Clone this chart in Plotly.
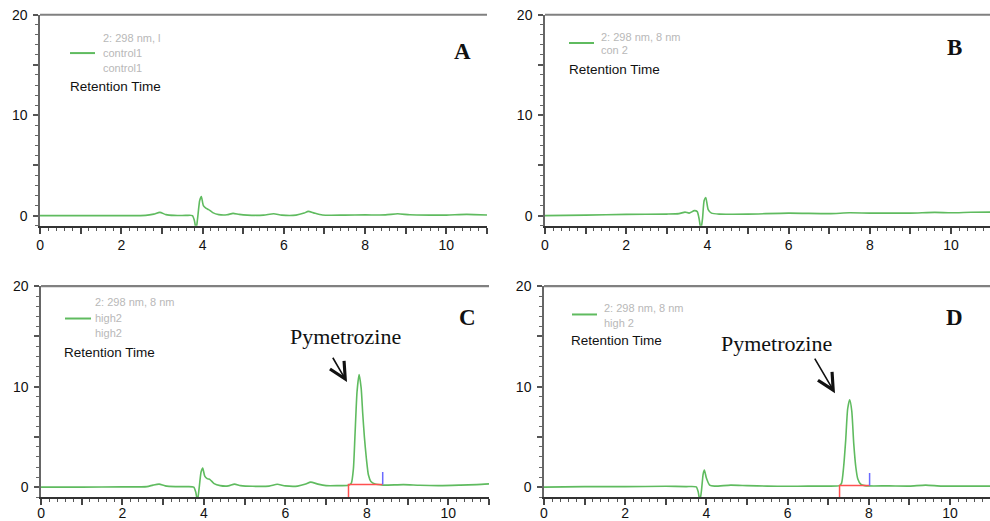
import plotly.graph_objects as go

# ---------------- data ----------------
# Panel A : control1
a_t = [0.0, 1.0, 2.0, 2.6, 2.8, 2.95, 3.1, 3.3, 3.6, 3.75, 3.8, 3.84, 3.88, 3.93, 3.97, 4.02, 4.08, 4.15, 4.25, 4.4,
       4.6, 4.75, 4.9, 5.1, 5.5, 5.75, 5.95, 6.3, 6.5, 6.6, 6.75, 6.95, 7.5, 8.0, 8.5, 8.8, 9.1, 9.6, 10.0, 10.5, 11.0]
a_s = [0.0, 0.0, 0.0, 0.02, 0.15, 0.32, 0.1, 0.02, 0.02, 0.0, -0.5, -1.4, -0.2, 1.5, 1.9, 1.0, 0.75, 0.6, 0.3, 0.1,
       0.08, 0.22, 0.12, 0.05, 0.05, 0.18, 0.05, 0.05, 0.25, 0.42, 0.25, 0.06, 0.05, 0.07, 0.07, 0.18, 0.08, 0.05, 0.05, 0.12, 0.06]

# Panel B : con 2
b_t = [0.0, 1.0, 2.0, 3.0, 3.3, 3.45, 3.55, 3.68, 3.75, 3.8, 3.84, 3.88, 3.92, 3.96, 4.02, 4.1, 4.3, 5.0, 6.0, 7.0,
       7.5, 8.0, 9.0, 9.6, 10.0, 10.5, 11.0]
b_s = [0.0, 0.05, 0.12, 0.15, 0.2, 0.35, 0.25, 0.5, 0.4, -0.4, -1.4, -0.3, 1.5, 1.8, 0.6, 0.25, 0.15, 0.15, 0.25, 0.2,
       0.28, 0.25, 0.25, 0.32, 0.28, 0.33, 0.35]

# Panel C : high2
c_t = [0.0, 1.0, 2.0, 2.6, 2.75, 2.9, 3.05, 3.3, 3.6, 3.75, 3.8, 3.84, 3.88, 3.93, 3.97, 4.02, 4.08, 4.15, 4.25, 4.4,
       4.6, 4.75, 4.9, 5.2, 5.6, 5.8, 6.0, 6.3, 6.5, 6.62, 6.8, 7.0, 7.3, 7.55, 7.62, 7.67, 7.71, 7.76, 7.81, 7.86,
       7.9, 7.94, 7.99, 8.04, 8.1, 8.2, 8.4, 8.9, 9.3, 9.8, 10.3, 10.7, 11.0]
c_s = [0.0, 0.0, 0.02, 0.05, 0.2, 0.3, 0.12, 0.05, 0.05, 0.0, -0.5, -1.4, -0.2, 1.5, 1.9, 1.1, 0.85, 0.75, 0.35, 0.15,
       0.12, 0.3, 0.15, 0.08, 0.1, 0.28, 0.12, 0.1, 0.3, 0.5, 0.3, 0.15, 0.15, 0.18, 0.4, 1.8, 5.2, 9.5, 11.2, 9.9,
       7.3, 5.0, 2.8, 1.2, 0.55, 0.3, 0.2, 0.25, 0.18, 0.15, 0.2, 0.25, 0.32]

# Panel D : high 2
d_t = [0.0, 1.0, 2.0, 3.0, 3.5, 3.75, 3.8, 3.84, 3.88, 3.92, 3.95, 4.0, 4.08, 4.2, 4.6, 5.0, 5.5, 6.0, 6.5, 7.0,
       7.28, 7.33, 7.38, 7.43, 7.48, 7.53, 7.58, 7.63, 7.68, 7.73, 7.8, 7.9, 8.0, 8.5, 9.0, 9.4, 9.8, 10.5, 11.0]
d_s = [0.0, 0.05, 0.05, 0.08, 0.05, 0.02, -0.5, -1.4, -0.3, 1.3, 1.7, 0.9, 0.2, 0.1, 0.2, 0.15, 0.1, 0.08, 0.1, 0.1,
       0.15, 0.4, 2.0, 4.6, 7.8, 8.7, 7.6, 4.3, 2.0, 0.8, 0.3, 0.15, 0.12, 0.12, 0.1, 0.2, 0.1, 0.1, 0.1]

# integration markers: [start time, end time, baseline level]
c_int = [7.55, 8.39, 0.25]
d_int = [7.28, 8.02, 0.17]
int_low = -1.2
int_high = [1.5, 1.4]

panel_letters = ["A", "B", "C", "D"]
legend_lines = [["2: 298 nm, l", "control1", "control1"],
                ["2: 298 nm, 8 nm", "con 2"],
                ["2: 298 nm, 8 nm", "high2", "high2"],
                ["2: 298 nm, 8 nm", "high 2"]]
peak_label = "Pymetrozine"
x_tickvals = list(range(0, 12))
x_ticktext = [str(v) if v % 2 == 0 else "" for v in x_tickvals]
y_tickvals = [0, 5, 10, 15, 20]
y_ticktext = ["0", "", "10", "", "20"]

# ---------------- figure ----------------
W, H = 990, 521
SX, SY = 0.996, 0.968   # measured photograph scaling about the page centre
GREEN = "#5fbb5f"
TICKFONT = dict(family="Liberation Sans Narrow, Arial Narrow, Liberation Sans, Arial, sans-serif",
                size=14, color="#111")


def px(x):
    return (W / 2 + (x - W / 2) / SX) / W


def py(y):
    return 1 - (H / 2 + (y - H / 2) / SY) / H


# (x0, x1, top, bottom) in picture pixels, x range end
geo = [(38, 485, 15, 224, 11.0), (543, None, 15, 224, None), (39, 487, 284, 493, 11.0), (542, None, 284, 493, None)]
domains = []
for x0, x1, top, bot, xe in geo:
    if x1 is None:
        dx = [px(x0), 1.0]
        edge = W / 2 + (W - W / 2) * SX
        xe = 11.0 * (edge - x0) / (40.6 * 11.0)
    else:
        dx = [px(x0), px(x1)]
    domains.append((dx, [py(bot), py(top)], xe))

fig = go.Figure()
series = [(a_t, a_s), (b_t, b_s), (c_t, c_s), (d_t, d_s)]
for i, (t, s) in enumerate(series):
    n = "" if i == 0 else str(i + 1)
    fig.add_trace(go.Scatter(x=t, y=s, mode="lines", line=dict(color=GREEN, width=1.6, shape="spline", smoothing=0.6),
                             xaxis="x" + n, yaxis="y" + n, hoverinfo="skip"))

for k, (ints, n) in enumerate([(c_int, "3"), (d_int, "4")]):
    t0, t1, lvl = ints
    fig.add_trace(go.Scatter(x=[t0, t0, t1], y=[int_low, lvl, lvl], mode="lines", hoverinfo="skip",
                             line=dict(color="#ff5050", width=1.5), xaxis="x" + n, yaxis="y" + n))
    fig.add_trace(go.Scatter(x=[t1, t1], y=[lvl, int_high[k]], mode="lines", hoverinfo="skip",
                             line=dict(color="#6a6aff", width=1.5), xaxis="x" + n, yaxis="y" + n))

layout = dict(width=W, height=H, autosize=False, margin=dict(l=0, r=0, t=0, b=0),
              paper_bgcolor="white", plot_bgcolor="white", showlegend=False, hovermode=False)
shapes = []
for i, (dx, dy, xe) in enumerate(domains):
    n = "" if i == 0 else str(i + 1)
    standoff = 0 if i < 2 else -4
    layout["xaxis" + n] = dict(domain=dx, anchor="y" + n, range=[0, xe], tickvals=x_tickvals, ticktext=x_ticktext,
                               ticks="outside", ticklen=6, tickwidth=1.5, tickcolor="#444",
                               minor=dict(dtick=0.2, ticks="outside", ticklen=3, tickcolor="#555", tickwidth=1),
                               showline=True, linecolor="#333", linewidth=2, showgrid=False, zeroline=False,
                               tickfont=TICKFONT, ticklabelstandoff=standoff, fixedrange=True)
    layout["yaxis" + n] = dict(domain=dy, anchor="x" + n, range=[-1, 20], tickvals=y_tickvals, ticktext=y_ticktext,
                               ticks="outside", ticklen=5, tickwidth=1.5, tickcolor="#555",
                               minor=dict(dtick=1, ticks="outside", ticklen=3, tickcolor="#666", tickwidth=1),
                               showline=True, linecolor="#666", linewidth=1.5, showgrid=False, zeroline=False,
                               tickfont=TICKFONT, ticklabelstandoff=3, fixedrange=True)
    shapes.append(dict(type="line", xref="x" + n + " domain", yref="y" + n + " domain", x0=0, x1=1, y0=1, y1=1,
                       line=dict(color="#808080", width=2.2)))

ann = []
letter_pos = [(460, 37), (962, 33), (465, 315), (963, 315)]
for L, (x, y) in zip(panel_letters, letter_pos):
    ann.append(dict(x=px(x), y=py(y), xref="paper", yref="paper", text="<b>" + L + "</b>", showarrow=False,
                    font=dict(family="Liberation Serif, Times New Roman, serif", size=23, color="#111")))

# legend blocks: (line x0, line x1, line y, text x, first text y, line spacing, retention x, retention y)
leg_geo = [(68, 93, 53, 99, 38, 15, 66, 86),
           (567, 592, 43, 597, 37, 12.5, 565, 69),
           (63, 89, 316, 91, 300, 15, 60, 350),
           (570, 595, 312, 600, 306, 14, 567, 338)]
for lines, (lx0, lx1, ly, tx, ty, dy, rx, ry) in zip(legend_lines, leg_geo):
    shapes.append(dict(type="line", xref="paper", yref="paper", x0=px(lx0), x1=px(lx1), y0=py(ly), y1=py(ly),
                       line=dict(color=GREEN, width=2)))
    for j, s in enumerate(lines):
        ann.append(dict(x=px(tx), y=py(ty + j * dy), xref="paper", yref="paper", text=s, showarrow=False,
                        xanchor="left", yanchor="middle",
                        font=dict(family="Liberation Sans, Arial, sans-serif", size=11, color="#b8b8b8")))
    ann.append(dict(x=px(rx), y=py(ry), xref="paper", yref="paper", text="Retention Time", showarrow=False,
                    xanchor="left", yanchor="middle",
                    font=dict(family="Liberation Sans, Arial, sans-serif", size=13.5, color="#111")))
layout["shapes"] = shapes

# peak labels and arrows
for (lx, ly), (hx, hy), (tx_, ty_) in [((343, 334), (345, 379), (330, 354)), ((832, 341), (833, 390), (812, 355))]:
    ann.append(dict(x=px(lx), y=py(ly), xref="paper", yref="paper", text=peak_label, showarrow=False,
                    font=dict(family="Liberation Serif, Times New Roman, serif", size=22, color="#111")))
    ann.append(dict(x=px(hx), y=py(hy), xref="paper", yref="paper", text="", showarrow=True,
                    ax=(tx_ - hx) / SX, ay=(ty_ - hy) / SY, arrowhead=5, arrowsize=2.0, arrowwidth=1.6,
                    arrowcolor="#111"))

layout["annotations"] = ann
fig.update_layout(**layout)
fig.write_html("out.html", config={"displayModeBar": False},
               post_script="document.body.style.margin='0px';document.body.style.overflow='hidden';")
